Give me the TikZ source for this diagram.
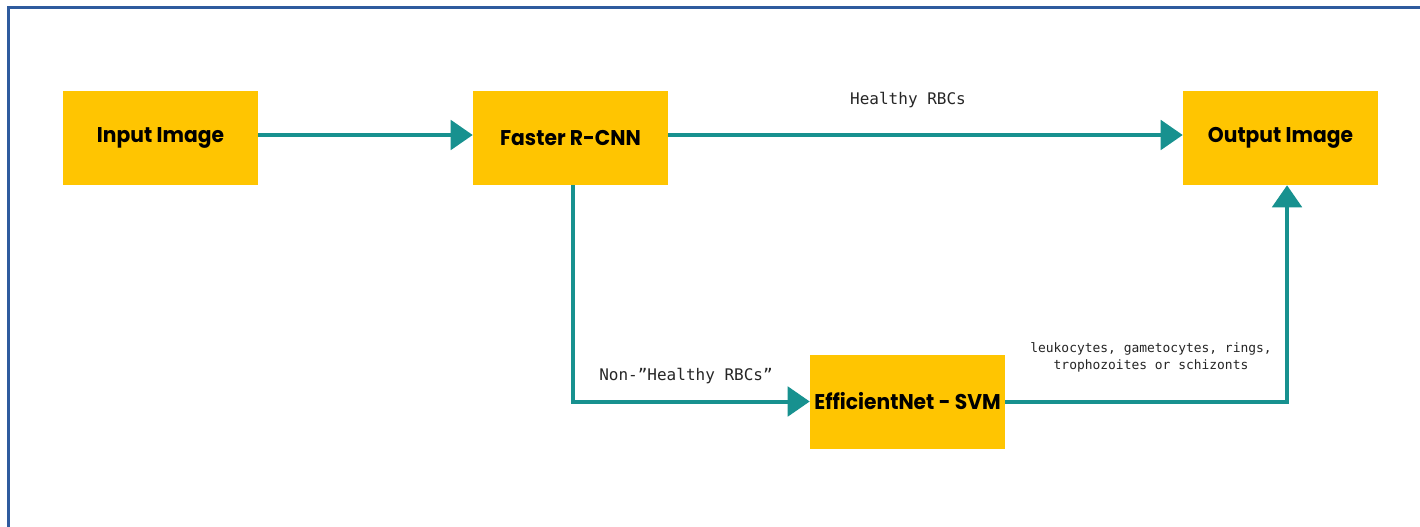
\documentclass[tikz,border=0pt]{standalone}
\usepackage{fontspec}
\usetikzlibrary{arrows.meta}
\newfontfamily\boxfont{Poppins}[FakeStretch=0.95]
\newfontfamily\labelfont{DejaVu Sans Mono}
\definecolor{boxyellow}{HTML}{FFC501}
\definecolor{flowteal}{HTML}{17918F}
\definecolor{frameblue}{HTML}{2F5B9E}
\definecolor{labelgray}{HTML}{262626}
\tikzset{
  stage/.style={fill=boxyellow, draw=none, minimum width=146.25pt, minimum height=70.5pt,
    inner sep=0pt, font=\boxfont\bfseries\fontsize{16}{19}\selectfont, text=black},
  flow/.style={draw=flowteal, line width=3pt,
    -{Triangle[length=16.5pt, width=22pt]}},
  tag/.style={font=\labelfont\fontsize{12}{14}\selectfont, text=labelgray, inner sep=0pt},
  smalltag/.style={font=\labelfont\fontsize{9.7}{13}\selectfont, text=labelgray, inner sep=0pt, align=center}
}
\begin{document}
\begin{tikzpicture}[x=0.75pt, y=-0.75pt]
  \useasboundingbox (0,0) rectangle (1420,527);
  \fill[white] (0,0) rectangle (1420,527);
  % frame
  \coordinate (fbl) at (8.5,527);
  \coordinate (ftl) at (8.5,7.5);
  \coordinate (ftr) at (1420,7.5);
  \draw[frameblue, line width=1.8pt] (fbl) -- (ftl) -- (ftr);

  % stages
  \node[stage] (input)  at (160.5,138) {Input Image};
  \node[stage] (rcnn)   at (570.5,138) {Faster R-CNN};
  \node[stage] (output) at (1280.5,138) {Output Image};
  \node[stage] (svm)    at (907.5,401.5) {EfficientNet - SVM};

  % connectors
  \draw[flow] ([yshift=2.25pt]input.east) -- ([yshift=2.25pt]rcnn.west);
  \draw[flow] ([yshift=2.25pt]rcnn.east) -- ([yshift=2.25pt]output.west);
  \draw[flow] ([xshift=1.9pt]rcnn.south) |- (svm.west);
  \draw[flow] (svm.east) -| ([xshift=4.9pt]output.south);

  % labels
  \node[tag] (lhealthy) at (908,100) {Healthy RBCs};
  \node[tag] (lnon) at (686,376) {Non-”Healthy RBCs”};
  \node[smalltag] (lclasses) at (1151,357.5) {leukocytes, gametocytes, rings,\\trophozoites or schizonts};
\end{tikzpicture}
\end{document}
